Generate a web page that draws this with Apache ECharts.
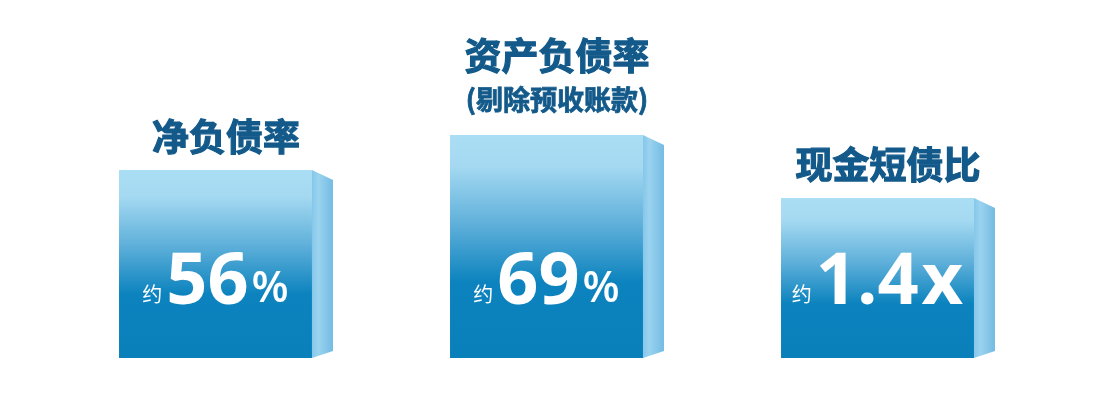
<!DOCTYPE html>
<html>
<head>
<meta charset="utf-8">
<script src="https://cdn.jsdelivr.net/npm/echarts@6/dist/echarts.min.js"></script>
<style>
html,body{margin:0;padding:0;background:#fff;}
#main{width:1105px;height:407px;}
</style>
</head>
<body>
<div id="main"></div>
<script>
// ---- data ----
var categories = ['净负债率', '资产负债率', '现金短债比'];
var subtitles = ['', '(剔除预收账款)', ''];
var prefixes = ['约', '约', '约'];
var valueLabels = ['56', '69', '1.4'];
var units = ['%', '%', 'x'];
var values = [56, 69, 1.4];
// display height of each box (decorative, in axis units)
var boxHeights = [188, 223, 160];

var chart = echarts.init(document.getElementById('main'));

var seriesData = categories.map(function (c, i) { return [i, boxHeights[i]]; });

function renderItem(params, api) {
  var i = api.value(0);
  var top = api.coord([i, api.value(1)]);
  var base = api.coord([i, 0]);
  var band = api.size([1, 0])[0];
  var w = band * 0.583;
  var x0 = top[0] - w / 2;
  var x1 = x0 + w;
  var yTop = top[1];
  var yBot = base[1];
  var depth = 21;
  var children = [];
  // front face
  children.push({
    type: 'rect',
    shape: { x: x0, y: yTop, width: w, height: yBot - yTop },
    style: {
      fill: new echarts.graphic.LinearGradient(0, 0, 0, 1, [
        { offset: 0, color: '#aadef4' },
        { offset: 0.14, color: '#a4d9f1' },
        { offset: 0.4, color: '#5fb0da' },
        { offset: 0.66, color: '#0c83be' },
        { offset: 1, color: '#0a80bb' }
      ])
    }
  });
  // side face
  children.push({
    type: 'polygon',
    shape: { points: [[x1, yTop], [x1 + depth, yTop + 10], [x1 + depth, yBot - 7], [x1, yBot]] },
    style: {
      fill: new echarts.graphic.LinearGradient(0, 0, 1, 0, [
        { offset: 0, color: '#86c7ea' },
        { offset: 0.3, color: '#9ad3ef' },
        { offset: 1, color: '#74bbe3' }
      ])
    }
  });
  var cx = (x0 + x1 + depth) / 2;
  var titleFont = 'bold 37px "Noto Sans CJK SC"';
  var titleColor = '#135a8a';
  var sub = subtitles[i];
  if (sub) {
    children.push({
      type: 'text',
      style: {
        x: cx, y: yTop - 35, text: sub, align: 'center', verticalAlign: 'middle',
        fill: titleColor, stroke: titleColor, lineWidth: 0.8, font: 'bold 27px "Noto Sans CJK SC"'
      }
    });
    children.push({
      type: 'text',
      style: {
        x: cx, y: yTop - 79, text: categories[i], align: 'center', verticalAlign: 'middle',
        fill: titleColor, stroke: titleColor, lineWidth: 1.2, font: titleFont
      }
    });
  } else {
    children.push({
      type: 'text',
      style: {
        x: cx, y: yTop - 33, text: categories[i], align: 'center', verticalAlign: 'middle',
        fill: titleColor, stroke: titleColor, lineWidth: 1.2, font: titleFont
      }
    });
  }
  // value label
  var isX = units[i] === 'x';
  children.push({
    type: 'text',
    style: {
      x: top[0], y: yBot - 39, align: 'center', verticalAlign: 'bottom',
      text: '{a|' + prefixes[i] + '}{b|' + valueLabels[i] + '}{c|' + units[i] + '}',
      rich: {
        a: { fill: '#fff', font: '20px "Noto Sans CJK SC"', verticalAlign: 'bottom', padding: [0, 4, 15, 0] },
        b: { fill: '#fff', font: 'bold 72px "Open Sans"', verticalAlign: 'bottom' },
        c: { fill: '#fff', font: isX ? 'bold 72px "Open Sans"' : '600 43px "Open Sans"', verticalAlign: 'bottom', padding: [0, 0, isX ? 0 : 8, 3] }
      }
    }
  });
  return { type: 'group', children: children };
}

chart.setOption({
  animation: false,
  grid: { left: 50, right: 62, top: 58, bottom: 49 },
  xAxis: { type: 'category', data: categories, show: false },
  yAxis: { type: 'value', min: 0, max: 300, show: false },
  series: [{
    type: 'custom',
    renderItem: renderItem,
    data: seriesData,
    clip: false
  }]
});
</script>
</body>
</html>
